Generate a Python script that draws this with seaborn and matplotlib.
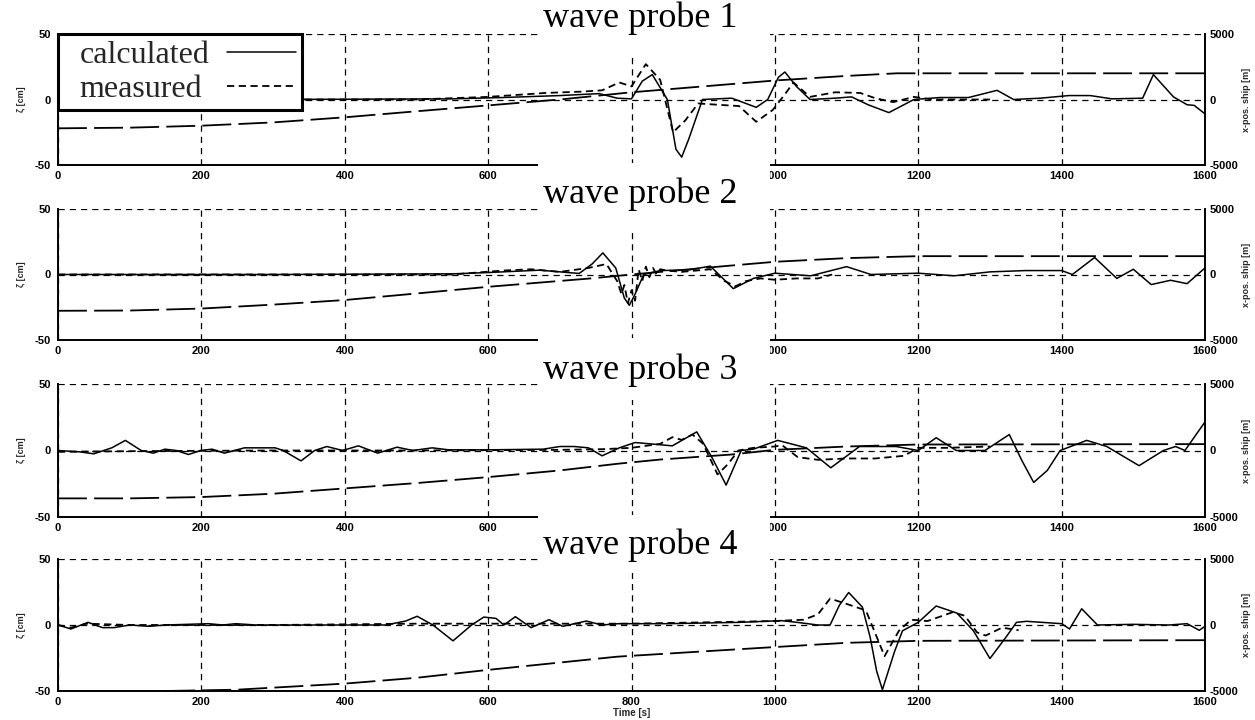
import numpy as np
import pandas as pd
import matplotlib
matplotlib.use("Agg")
import matplotlib.pyplot as plt
import seaborn as sns
from matplotlib.patches import Rectangle
from matplotlib.lines import Line2D

sns.set_theme(style="white")
plt.rcParams["font.family"] = ["Liberation Sans", "DejaVu Sans"]
plt.rcParams["font.weight"] = "bold"

# ---------------- data ----------------
time_ticks = [0, 200, 400, 600, 800, 1000, 1200, 1400, 1600]
titles = ["wave probe 1", "wave probe 2", "wave probe 3", "wave probe 4"]
legend_labels = ["calculated", "measured"]

# wave probe 1
p1_calc_t = [0, 300, 550, 620, 700, 755, 780, 800, 815, 829, 850, 862, 870, 880, 899, 940, 974, 990, 1005, 1014,
             1030, 1049, 1084, 1107, 1130, 1159, 1194, 1230, 1270, 1310, 1333, 1370, 1410, 1440, 1470, 1513, 1528,
             1556, 1575, 1585, 1600]
p1_calc_v = [0, 0, 0.5, 1.5, 3, 4.5, 1, 0.5, 14, 19, 0, -38, -44, -30, 0, 1, -6, 0, 17, 21,
             10, 0, 1, 2, -4, -10, 0, 1.5, 1.5, 7, 0, 1, 3, 3, 0.5, 1, 19,
             2, -4, -4.5, -11]
p1_meas_t = [0, 500, 600, 680, 730, 759, 783, 800, 820, 840, 858, 875, 893, 920, 950, 974, 997, 1014, 1026, 1049,
             1084, 1119, 1140, 1165, 1194, 1220, 1300]
p1_meas_v = [0, 0, 2, 5, 6, 7, 13, 10, 27, 15, -25, -16, -3, -4, -5, -17, -8, 4, 13, 2,
             5.5, 5, 1, -2, 2, 0, 0]
p1_ship_t = [0, 100, 200, 300, 400, 500, 600, 700, 800, 900, 1000, 1100, 1170, 1600]
p1_ship_v = [-2200, -2150, -2000, -1750, -1360, -900, -450, 0, 550, 1000, 1450, 1800, 2000, 2000]

# wave probe 2
p2_calc_t = [0, 300, 550, 600, 672, 727, 745, 760, 778, 790, 797, 805, 817, 840, 880, 910, 942, 970, 1000, 1050,
             1100, 1134, 1200, 1250, 1300, 1350, 1400, 1415, 1446, 1477, 1500, 1525, 1552, 1575, 1600]
p2_calc_v = [0, 0, 0.5, 1.5, 3.3, 0.8, 8, 16.5, 5, -18, -23.5, -15, 0, 3, 3.5, 6.4, -10.8, -3, 1, -1,
             6, 0, 1, -1, 2, 3, 3, 0, 13, -3, 4, -7.7, -4.4, -7, 5]
p2_meas_t = [0, 550, 620, 660, 700, 740, 765, 780, 786, 790, 795, 800, 805, 810, 815, 820, 825, 830, 835, 840,
             850, 870, 890, 910, 930, 945, 960, 980, 1000, 1030, 1060, 1080]
p2_meas_v = [0, 0, 3, 4, 2, 5, 8, -5, -15, -8, -22, -12, -20, 4, -5, 6, -2, 5, 0, 4,
             3, 2, 3, 4, -5, -9, -5, -3, -4, -3, -3, 0]
p2_ship_t = [0, 100, 200, 300, 400, 500, 600, 743, 800, 930, 1000, 1100, 1200, 1600]
p2_ship_v = [-2770, -2750, -2600, -2300, -1950, -1450, -940, -300, 0, 640, 970, 1250, 1400, 1400]

# wave probe 3
p3_calc_t = [0, 30, 50, 75, 94, 116, 133, 149, 165, 182, 199, 215, 232, 260, 303, 314, 339, 358, 375, 397,
             419, 446, 473, 495, 522, 545, 600, 677, 700, 720, 740, 759, 783, 805, 857, 891, 912, 932, 953, 970,
             1004, 1044, 1078, 1118, 1169, 1200, 1225, 1253, 1293, 1327, 1345, 1361, 1380, 1398, 1435, 1463, 1508,
             1542, 1559, 1572, 1600]
p3_calc_v = [0, -1, -2.5, 2, 7.6, 0, -2, 1, 0, -3, 0, 1, -2, 2, 2, 0, -7.8, 0, 3, 0,
             3.5, -2, 2.5, 0, 2, 0.5, 0.5, 1, 3, 3, 2, -4, 2, 6, 3.5, 14, -5, -26, 0, 1,
             7.6, 2, -13, 3, 3, 0, 9.6, 0, 0, 12, -8, -24, -15, 0, 7.6, 3, -11.4,
             0, 3, 0, 21.5]
p3_meas_t = [0, 100, 300, 500, 700, 760, 800, 840, 857, 870, 885, 900, 920, 935, 949, 970, 1000, 1010, 1032, 1060,
             1100, 1140, 1180, 1200, 1240, 1300]
p3_meas_v = [-1, -0.5, 0, 0, 0.5, 1, 2, 5, 10, 8, 12, 5, -18, -10, 0, 2, 3, 4, -5, -7,
             -6, -6, -4, 2, 2, 3]
p3_ship_t = [0, 100, 200, 300, 400, 500, 600, 700, 780, 840, 940, 1000, 1100, 1200, 1600]
p3_ship_v = [-3600, -3600, -3500, -3250, -2850, -2450, -2000, -1500, -1000, -680, -300, 50, 300, 450, 480]

# wave probe 4
p4_calc_t = [0, 18, 42, 62, 78, 100, 127, 150, 210, 230, 248, 276, 457, 485, 501, 523, 551, 577, 594, 611,
             622, 638, 660, 685, 704, 737, 759, 782, 850, 950, 1009, 1031, 1060, 1077, 1090, 1103, 1122, 1133, 1142,
             1150, 1167, 1178, 1200, 1225, 1254, 1277, 1300, 1322, 1337, 1351, 1400, 1411, 1428, 1450, 1500, 1550,
             1575, 1592, 1600]
p4_calc_v = [0, -3, 2, -2, -2, 0, -1, 0, 1, 0, 1, 0, 0, 3, 6.6, 0, -12, 0, 6, 5,
             0, 6.3, -2, 4, -1, 3, 0, 1, 1, 2, 3.3, 2, 0, 0, 15, 24.6, 13.6, -9.5, -35,
             -49, -20, -4.4, 2, 14.4, 9, -4.4, -25.4, -9.5, 2, 2.8, 1, -3, 12.3, 0, 0.5, 0,
             1, -4, -1]
p4_meas_t = [0, 18, 40, 100, 300, 500, 700, 800, 900, 1000, 1040, 1060, 1077, 1100, 1127, 1153, 1173, 1190, 1213, 1248,
             1265, 1282, 1294, 1317, 1340]
p4_meas_v = [0, -2, 1, 0, 0, 1, 1, 1, 2, 3, 4, 8, 20, 16, 11, -23.6, -4.4, 4, 3, 9.7,
             7, -5.6, -8, -2, -4]
p4_ship_t = [0, 100, 150, 250, 400, 500, 600, 780, 900, 1000, 1100, 1200, 1600]
p4_ship_v = [-5400, -5200, -5000, -4900, -4440, -4000, -3400, -2400, -2000, -1670, -1350, -1200, -1150]

calc_t = [p1_calc_t, p2_calc_t, p3_calc_t, p4_calc_t]
calc_v = [p1_calc_v, p2_calc_v, p3_calc_v, p4_calc_v]
meas_t = [p1_meas_t, p2_meas_t, p3_meas_t, p4_meas_t]
meas_v = [p1_meas_v, p2_meas_v, p3_meas_v, p4_meas_v]
ship_t = [p1_ship_t, p2_ship_t, p3_ship_t, p4_ship_t]
ship_v = [p1_ship_v, p2_ship_v, p3_ship_v, p4_ship_v]

# ---------------- layout ----------------
W, H = 1255, 720
fig = plt.figure(figsize=(W / 100, H / 100), dpi=100)
fig.patch.set_facecolor("white")

panel_px = [(34, 165), (209, 340), (384, 517), (559, 691)]
x_left, x_right = 58, 1205
title_y = [18, 194, 370, 545]
cover_px = [(0, 55), (163, 232), (338, 400), (515, 573)]

SOLID = dict(color="black", lw=1.1)
MEAS = dict(color="black", lw=1.3, linestyle=(0, (4, 2.5)))
SHIP = dict(color="black", lw=1.3, linestyle=(0, (16, 4)))
GRID_LS = (0, (5, 4))
tick_font = 8
lab_font = 6.5

leg = None
for i in range(4):
    top, bot = panel_px[i]
    ax = fig.add_axes([x_left / W, 1 - bot / H, (x_right - x_left) / W, (bot - top) / H])
    ax2 = ax.twinx()

    df_c = pd.DataFrame({"t": calc_t[i], "v": calc_v[i]})
    df_m = pd.DataFrame({"t": meas_t[i], "v": meas_v[i]})
    df_s = pd.DataFrame({"t": ship_t[i], "v": ship_v[i]})

    sns.lineplot(data=df_c, x="t", y="v", ax=ax, estimator=None, **SOLID)
    sns.lineplot(data=df_m, x="t", y="v", ax=ax, estimator=None, **MEAS)
    sns.lineplot(data=df_s, x="t", y="v", ax=ax2, estimator=None, **SHIP)

    ax.set_xlim(0, 1600)
    ax.set_ylim(-50, 50)
    ax2.set_ylim(-5000, 5000)
    ax.set_xticks(time_ticks)
    # in the upper three panels the 800 label is hidden under the next title
    xlabels = [str(v) if (i == 3 or v != 800) else "" for v in time_ticks]
    ax.set_xticklabels(xlabels)
    ax.set_yticks([-50, 0, 50])
    ax.set_yticklabels(["-50", "0", "50"])
    ax2.set_yticks([-5000, 0, 5000])
    ax2.set_yticklabels(["-5000", "0", "5000"])
    for lbl in ax2.get_yticklabels():
        lbl.set_verticalalignment("center_baseline")

    ax.grid(True, color="black", linestyle=GRID_LS, lw=0.9)
    ax2.grid(False)
    ax.set_facecolor("white")
    ax2.patch.set_visible(False)

    for sp in ["left", "bottom"]:
        ax.spines[sp].set_color("black")
        ax.spines[sp].set_linewidth(1.4)
    ax.spines["top"].set_visible(False)
    ax.spines["right"].set_visible(False)
    for sp in ["left", "bottom", "top"]:
        ax2.spines[sp].set_visible(False)
    ax2.spines["right"].set_color("black")
    ax2.spines["right"].set_linewidth(1.4)

    ax.tick_params(axis="x", length=0, pad=4, labelsize=tick_font, colors="black")
    ax.tick_params(axis="y", length=0, pad=5, labelsize=tick_font, colors="black")
    ax2.tick_params(axis="y", length=0, pad=3, labelsize=tick_font, colors="black")

    ax.set_xlabel("Time [s]" if i == 3 else "", fontsize=7, fontweight="bold")
    ax.xaxis.set_label_coords(0.5, -0.13)
    ax.set_ylabel("ζ [cm]", fontsize=lab_font, fontweight="bold")
    ax.yaxis.set_label_coords((26 - x_left) / (x_right - x_left), 0.5)
    ax2.set_ylabel("x-pos. ship [m]", fontsize=lab_font, fontweight="bold", rotation=90)
    ax2.yaxis.set_label_coords((1242 - x_left) / (x_right - x_left), 0.5)

    if i == 0:
        handles = [Line2D([], [], **SOLID), Line2D([], [], **MEAS)]
        leg = ax2.legend(handles, legend_labels, loc="upper left", bbox_to_anchor=(0, 1),
                         borderaxespad=0, markerfirst=False,
                         prop=dict(family="Liberation Serif", size=23, weight="normal"),
                         handlelength=2.15, handletextpad=1.03, borderpad=0.2, labelspacing=0.15,
                         fancybox=False, framealpha=1, edgecolor="black")
        leg.get_frame().set_linewidth(2.2)
        leg.set_zorder(20)

    # white title patch (as in the pasted scan) and the title text
    cy0, cy1 = cover_px[i]
    fig.add_artist(Rectangle((538 / W, 1 - cy1 / H), (770 - 538) / W, (cy1 - cy0) / H,
                             transform=fig.transFigure, facecolor="white", edgecolor="none", zorder=10))
    fig.text(640 / W, 1 - title_y[i] / H, titles[i], ha="center", va="center",
             family="Liberation Serif", fontsize=26, fontweight="normal", color="black", zorder=11)

# left-align the legend texts (handles stay on the right, as in the reference)
fig.canvas.draw()
r = fig.canvas.get_renderer()
w = [t.get_window_extent(r).width for t in leg.get_texts()]
shift = 15
leg.get_texts()[0].set_x(shift)
leg.get_texts()[1].set_x(shift - (w[0] - w[1]))

fig.savefig("out.png", dpi=100, facecolor="white")
